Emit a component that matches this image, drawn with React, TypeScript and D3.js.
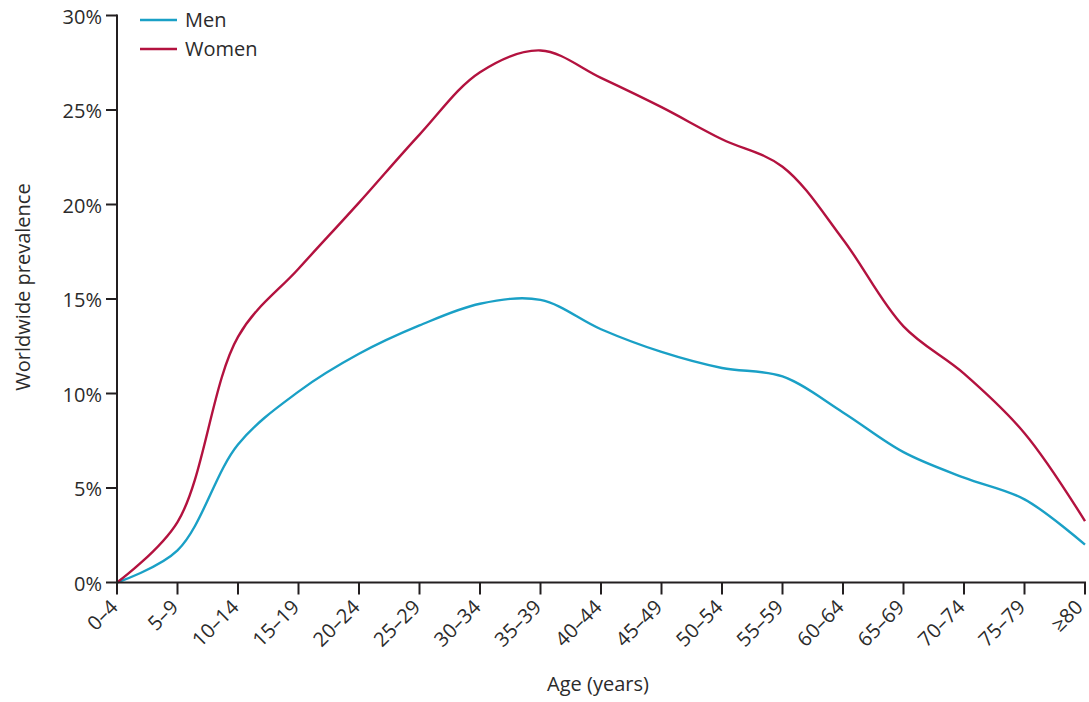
import React from "react";
import * as d3 from "d3";

const ageGroups = ["0–4","5–9","10–14","15–19","20–24","25–29","30–34","35–39","40–44","45–49","50–54","55–59","60–64","65–69","70–74","75–79","≥80"];
const menValues = [0, 1.7, 7.3, 10.1, 12.1, 13.6, 14.75, 14.95, 13.4, 12.2, 11.35, 10.9, 9.0, 6.9, 5.55, 4.4, 2.0];
const womenValues = [0, 3.2, 13.0, 16.6, 20.1, 23.7, 27.0, 28.15, 26.7, 25.15, 23.45, 22.0, 18.15, 13.55, 11.05, 7.9, 3.25];
const yTicks = [0, 5, 10, 15, 20, 25, 30];
const seriesNames = ["Men", "Women"];
const seriesColors = ["#1aa0c6", "#b3123f"];

const W = 1089, H = 702;
const margin = { left: 117, right: 4, top: 15.5, bottom: 119.5 };
const FONT = "'Open Sans', sans-serif";
const TEXT = "#2b2b2b";
const AXIS = "#231f20";

export default function App() {
  const x = d3.scalePoint<string>().domain(ageGroups).range([margin.left, W - margin.right]);
  const y = d3.scaleLinear().domain([0, 30]).range([H - margin.bottom, margin.top]);
  const line = d3.line<number>()
    .x((_, i) => x(ageGroups[i]) as number)
    .y((d) => y(d))
    .curve(d3.curveCatmullRom.alpha(0.5));
  const series = [menValues, womenValues];
  const x0 = margin.left, x1 = W - margin.right, yb = y(0), yt = y(30);

  return (
    <svg width={W} height={H} style={{ position: "absolute", left: 0, top: 0, background: "#fff" }} fontFamily={FONT}>
      {series.map((vals, i) => (
        <path key={i} d={line(vals) || ""} fill="none" stroke={seriesColors[i]} strokeWidth={2.4} strokeLinejoin="round" />
      ))}
      {/* axes */}
      <line x1={x0} x2={x0} y1={yt - 1} y2={yb} stroke={AXIS} strokeWidth={2} />
      <line x1={x0 - 1} x2={x1 + 1} y1={yb} y2={yb} stroke={AXIS} strokeWidth={2} />
      {yTicks.map((t) => (
        <g key={t}>
          <line x1={x0 - 11} x2={x0} y1={y(t)} y2={y(t)} stroke={AXIS} strokeWidth={2} />
          <text x={x0 - 15} y={y(t)} dy="0.42em" textAnchor="end" fontSize={20} fill={TEXT}>{t}%</text>
        </g>
      ))}
      {ageGroups.map((g) => {
        const px = x(g) as number;
        const lx = Math.min(px + 2, W - 5);
        return (
          <g key={g}>
            <line x1={px} x2={px} y1={yb} y2={yb + 12} stroke={AXIS} strokeWidth={2} />
            <text transform={`translate(${lx},${yb + 26}) rotate(-45)`} textAnchor="end" fontSize={20} fill={TEXT}>{g}</text>
          </g>
        );
      })}
      <text x={598} y={691} textAnchor="middle" fontSize={20} fill={TEXT}>Age (years)</text>
      <text transform={`translate(30,287) rotate(-90)`} textAnchor="middle" fontSize={20} fill={TEXT}>Worldwide prevalence</text>
      {/* legend */}
      {seriesNames.map((n, i) => (
        <g key={n}>
          <line x1={140} x2={177} y1={20 + i * 29} y2={20 + i * 29} stroke={seriesColors[i]} strokeWidth={2.4} />
          <text x={185} y={20 + i * 29} dy="0.35em" fontSize={20} fill={TEXT}>{n}</text>
        </g>
      ))}
    </svg>
  );
}
